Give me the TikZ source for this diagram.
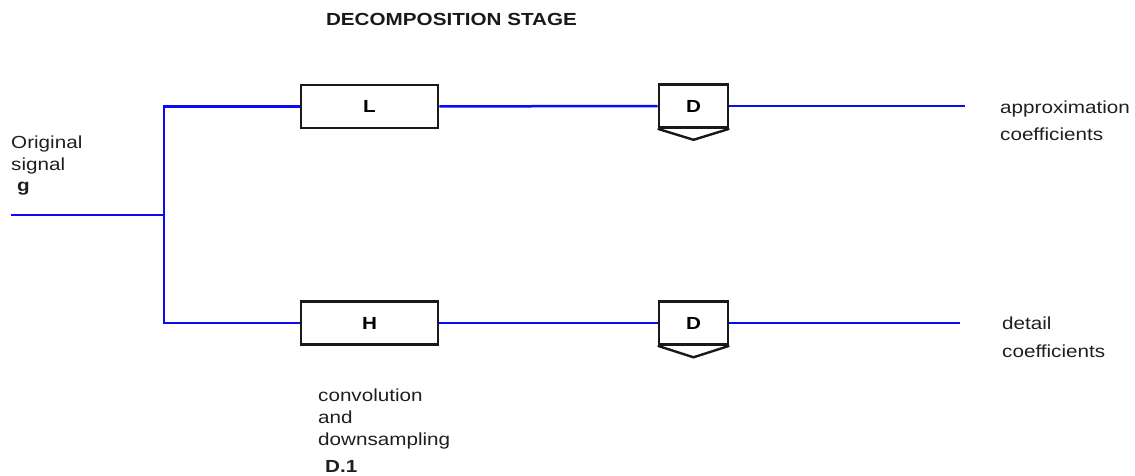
\documentclass[tikz,border=0pt]{standalone}
\usepackage{fontspec}
\setmainfont[FakeStretch=1.18]{Liberation Sans}
\usetikzlibrary{calc}

\begin{document}
\begin{tikzpicture}[x=1pt,y=-1pt,
  wire/.style={draw={rgb,255:red,10;green,10;blue,245}, line width=2.5pt},
  blockbox/.style={draw=black!90, line width=2.6pt, fill=white, inner sep=0pt,
    minimum height=43pt, font=\fontsize{17.5}{21}\selectfont\bfseries},
  filterbox/.style={blockbox, minimum width=137pt},
  downbox/.style={blockbox, minimum width=69pt},
  chevron/.style={draw=black!90, line width=2.4pt, line join=miter},
  lbl/.style={inner sep=0pt, anchor=base west, align=left, text=black!88},
  lblA/.style={lbl, font=\fontsize{17.5}{21}\selectfont},
  lblB/.style={lbl, font=\fontsize{17.5}{28}\selectfont},
  lblC/.style={lbl, font=\fontsize{17.5}{22}\selectfont}
]
\useasboundingbox (0,0) rectangle (1135,476);

% title
\node[inner sep=0pt, anchor=base, font=\fontsize{17.5}{21}\selectfont\bfseries, text=black!90]
  (title) at (451.5,26) {DECOMPOSITION STAGE};

% filters and downsamplers
\node[filterbox] (L)  at (369.5,106.5) {L};
\node[filterbox] (H)  at (369.5,323)   {H};
\node[downbox]   (DL) at (693.5,106)   {D};
\node[downbox]   (DH) at (693.5,323)   {D};

\draw[chevron] (DL.south west) -- ($(DL.south)+(0,11)$) -- (DL.south east);
\draw[chevron] (DH.south west) -- ($(DH.south)+(0,11.5)$) -- (DH.south east);

% signal paths
\coordinate (in)   at (11,215);
\coordinate (bus)  at (164,215);
\coordinate (outA) at (965,106);
\coordinate (outD) at (960,323);

\draw[wire] (in) -- (bus);
\draw[wire] (L.west) -| (bus) |- (H.west);
\draw[wire] (L) -- (DL);
\draw[wire] (H) -- (DH);
\draw[wire] (DL) -- (outA);
\draw[wire] (DH) -- (outD);

% labels (multi-line nodes sit on the baseline of their last line)
\node[lblA] (orig) at (11,170) {Original\\signal};
\node[lblA, font=\fontsize{17.5}{21}\selectfont\bfseries] (g) at (17,191) {g};
\node[lblB] (approx) at (1000,141) {approximation\\coefficients};
\node[lblB] (detail) at (1002,357) {detail\\coefficients};
\node[lblC] (conv) at (318,445) {convolution\\and\\downsampling};
\node[lblA, font=\fontsize{17.5}{21}\selectfont\bfseries] (fig) at (325,472) {D.1};
\end{tikzpicture}
\end{document}
